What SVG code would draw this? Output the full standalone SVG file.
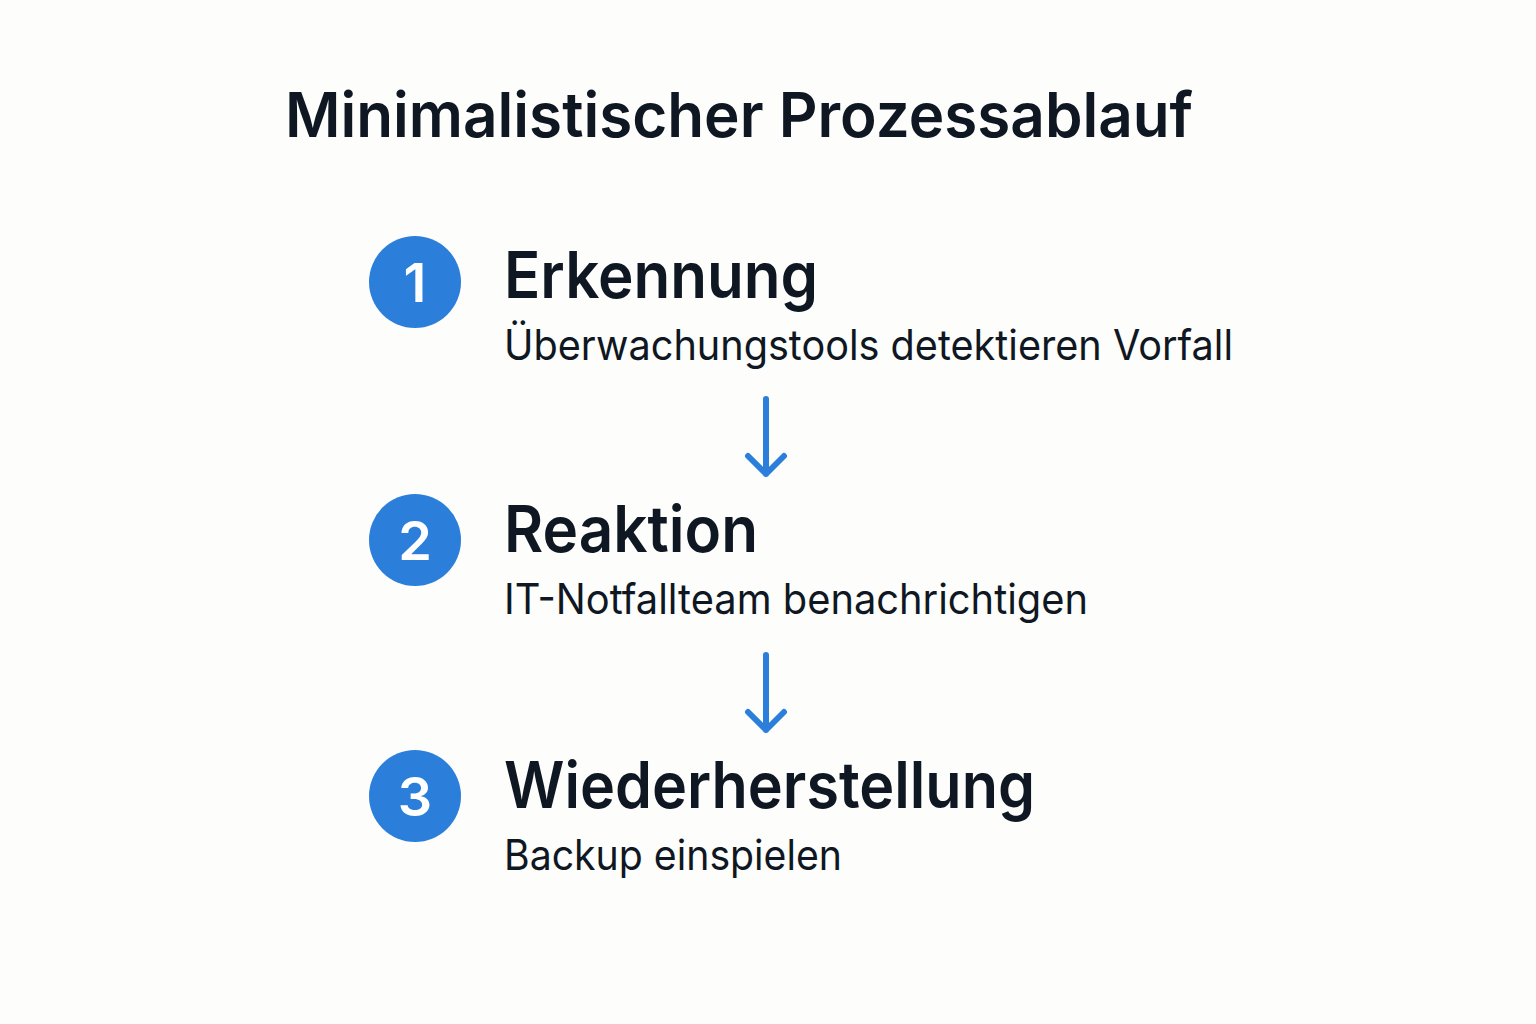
<svg xmlns="http://www.w3.org/2000/svg" width="1536" height="1024" viewBox="0 0 1536 1024">
<style>
.title{font-family:Inter,"Noto Sans","Liberation Sans",sans-serif;font-weight:600;font-size:62px;fill:#0f1722}
.head{font-family:Inter,"Noto Sans","Liberation Sans",sans-serif;font-weight:600;font-size:64px;fill:#0f1722}
.sub{font-family:Inter,"Noto Sans","Liberation Sans",sans-serif;font-weight:400;font-size:42px;fill:#0f1722}
.num{font-family:Inter,"Noto Sans","Liberation Sans",sans-serif;font-weight:600;font-size:54px;fill:#ffffff;text-anchor:middle}
.badge{fill:#2b7fdb}
.conn{stroke:#2b7fdb;stroke-width:6;fill:none;stroke-linecap:round;stroke-linejoin:round}
</style>
<rect width="1536" height="1024" fill="#fdfdfc"/>
<text id="title" class="title" x="285" y="137" textLength="908" lengthAdjust="spacingAndGlyphs">Minimalistischer Prozessablauf</text>
<g id="step1">
<circle class="badge" cx="415" cy="282" r="46"/>
<text class="num" x="415" y="302">1</text>
<text class="head" x="504" y="298" textLength="314" lengthAdjust="spacingAndGlyphs">Erkennung</text>
<text class="sub" x="504" y="360" textLength="729" lengthAdjust="spacingAndGlyphs">Überwachungstools detektieren Vorfall</text>
</g>
<g id="step2">
<circle class="badge" cx="415" cy="540" r="46"/>
<text class="num" x="415" y="560">2</text>
<text class="head" x="504" y="552" textLength="254" lengthAdjust="spacingAndGlyphs">Reaktion</text>
<text class="sub" x="504" y="614" textLength="584" lengthAdjust="spacingAndGlyphs">IT-Notfallteam benachrichtigen</text>
</g>
<g id="step3">
<circle class="badge" cx="415" cy="796" r="46"/>
<text class="num" x="415" y="816">3</text>
<text class="head" x="504" y="808" textLength="531" lengthAdjust="spacingAndGlyphs">Wiederherstellung</text>
<text class="sub" x="504" y="870" textLength="338" lengthAdjust="spacingAndGlyphs">Backup einspielen</text>
</g>
<g id="connectors">
<path class="conn" d="M766 399 V474 M748 456 L766 474 L784 456"/>
<path class="conn" d="M766 655 V730 M748 712 L766 730 L784 712"/>
</g>
</svg>
